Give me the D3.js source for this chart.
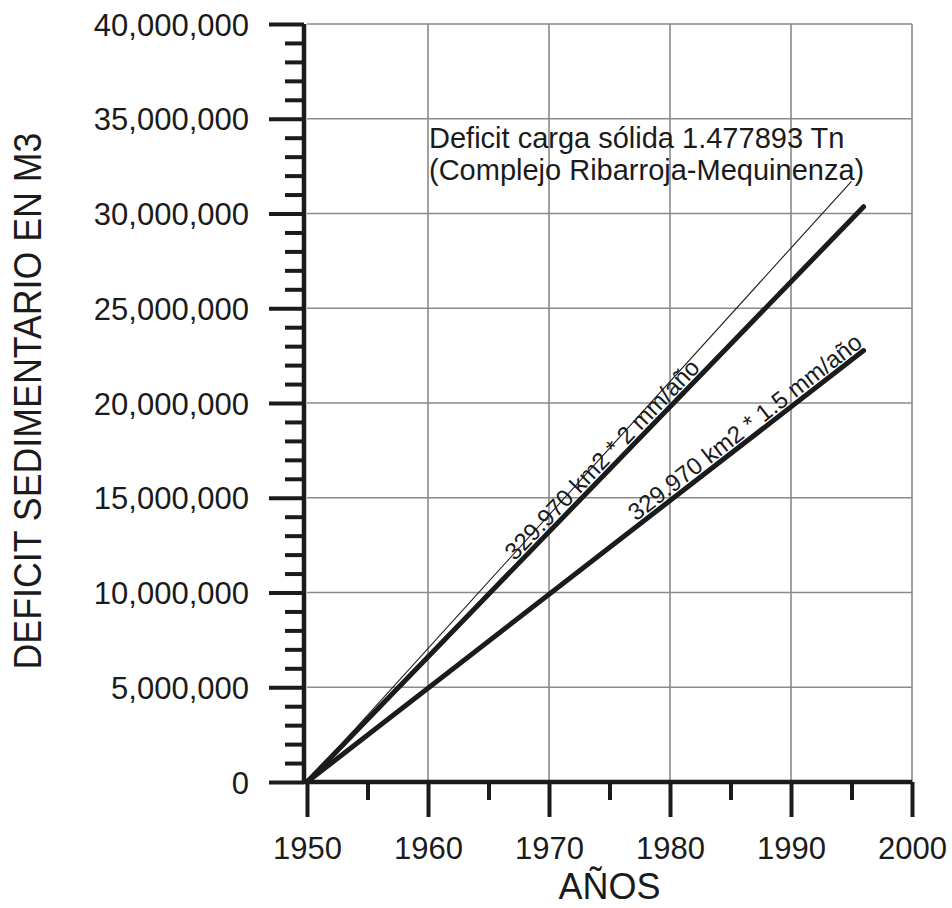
<!DOCTYPE html>
<html>
<head>
<meta charset="utf-8">
<script src="https://cdn.jsdelivr.net/npm/d3@7"></script>
<style>
  html, body { margin: 0; padding: 0; background: #fff; }
  svg { display: block; font-family: Arial, "Liberation Sans", sans-serif; }
</style>
</head>
<body>
<svg id="chart" width="952" height="908"></svg>
<script>
// ---- data ----
const xTickYears = [1950, 1960, 1970, 1980, 1990, 2000];
const xMinorYears = [1955, 1965, 1975, 1985, 1995];
const yTickValues = [0, 5000000, 10000000, 15000000, 20000000, 25000000, 30000000, 35000000, 40000000];
const seriesYears = [1950, 1996];
const values2mm = [0, 30357240];     // 329.970 km2 * 2 mm/año
const values15mm = [0, 22767930];    // 329.970 km2 * 1.5 mm/año
const deficitYears = [1950, 1995];
const deficitValues = [0, 31700000]; // Deficit carga sólida
const label2mm = "329.970 km2 * 2 mm/año";
const label15mm = "329.970 km2 * 1.5 mm/año";
const annotationLines = ["Deficit carga sólida 1.477893 Tn", "(Complejo Ribarroja-Mequinenza)"];
const xTitle = "AÑOS";
const yTitle = "DEFICIT SEDIMENTARIO EN M3";

// ---- layout ----
const svg = d3.select("#chart");
const x = d3.scaleLinear().domain([1950, 2000]).range([307, 912]);
const y = d3.scaleLinear().domain([0, 40000000]).range([782, 24]);
const ink = "#1b1b1b";

// grid
const grid = svg.append("g");
grid.selectAll("line.v").data(xTickYears.slice(1)).join("line")
  .attr("x1", d => x(d)).attr("x2", d => x(d))
  .attr("y1", y(0)).attr("y2", y(40000000))
  .attr("stroke", "#8a8a8a").attr("stroke-width", 1.6);
grid.selectAll("line.h").data(yTickValues.slice(1)).join("line")
  .attr("x1", x(1950)).attr("x2", x(2000))
  .attr("y1", d => y(d)).attr("y2", d => y(d))
  .attr("stroke", "#8a8a8a").attr("stroke-width", 1.6);

// series lines
const lineGen = d3.line().x(d => x(d[0])).y(d => y(d[1]));
function pairs(xs, vs) { return xs.map((v, i) => [v, vs[i]]); }
svg.append("path").datum(pairs(deficitYears, deficitValues))
  .attr("d", lineGen).attr("fill", "none").attr("stroke", ink).attr("stroke-width", 1.1);
svg.append("path").datum(pairs(seriesYears, values2mm))
  .attr("d", lineGen).attr("fill", "none").attr("stroke", ink).attr("stroke-width", 5).attr("stroke-linecap", "round");
svg.append("path").datum(pairs(seriesYears, values15mm))
  .attr("d", lineGen).attr("fill", "none").attr("stroke", ink).attr("stroke-width", 5).attr("stroke-linecap", "round");

// rotated labels along lines
function lineLabel(years, vals, startYear, text, offset) {
  const x0 = x(years[0]), y0 = y(vals[0]), x1 = x(years[1]), y1 = y(vals[1]);
  const ang = Math.atan2(y1 - y0, x1 - x0);
  const t = (startYear - years[0]) / (years[1] - years[0]);
  const px = x0 + (x1 - x0) * t + Math.sin(ang) * offset;
  const py = y0 + (y1 - y0) * t - Math.cos(ang) * offset;
  svg.append("text")
    .attr("transform", `translate(${px},${py}) rotate(${ang * 180 / Math.PI})`)
    .attr("font-size", 24).attr("fill", ink).text(text);
}
lineLabel(seriesYears, values2mm, 1967.4, label2mm, 4);
lineLabel(seriesYears, values15mm, 1977.4, label15mm, 4);

// annotation
const ann = svg.append("text").attr("font-size", 29).attr("fill", ink);
ann.selectAll("tspan").data(annotationLines).join("tspan")
  .attr("x", x(1960) + 1).attr("y", (d, i) => y(33450000) + i * 32).text(d => d);

// y axis
const yAxis = svg.append("g").attr("transform", `translate(${x(1950) - 3},0)`)
  .call(d3.axisLeft(y).tickValues(yTickValues).tickSize(35).tickPadding(20).tickFormat(d3.format(",")));
const yMinor = d3.range(0, 40000001, 1000000).filter(v => v % 5000000 !== 0);
const yMinorG = svg.append("g").attr("transform", `translate(${x(1950) - 3},0)`)
  .call(d3.axisLeft(y).tickValues(yMinor).tickSize(19).tickFormat(""));
// x axis
const xAxis = svg.append("g").attr("transform", `translate(0,${y(0)})`)
  .call(d3.axisBottom(x).tickValues(xTickYears).tickSize(35).tickPadding(20).tickFormat(d3.format("d")));
const xMinorG = svg.append("g").attr("transform", `translate(0,${y(0)})`)
  .call(d3.axisBottom(x).tickValues(xMinorYears).tickSize(18).tickFormat(""));

yMinorG.select(".domain").remove();
xMinorG.select(".domain").remove();
svg.selectAll(".domain").attr("stroke", ink).attr("stroke-width", 4.5);
svg.selectAll(".tick line").attr("stroke", ink).attr("stroke-width", 4);
svg.selectAll(".tick text").attr("font-size", 31).attr("fill", ink)
  .attr("font-family", "Arial, 'Liberation Sans', sans-serif");
yAxis.select(".domain").attr("d", `M0,${y(40000000)}V${y(0)}`);
xAxis.select(".domain").attr("d", `M${x(1950) - 3},0H${x(2000)}`);
yAxis.selectAll(".tick text").attr("dy", "0.36em");

// titles
svg.append("text").attr("x", (x(1950) + x(2000)) / 2).attr("y", 899)
  .attr("text-anchor", "middle").attr("font-size", 36).attr("fill", ink).text(xTitle);
svg.append("text").attr("transform", `translate(41,401) rotate(-90)`)
  .attr("text-anchor", "middle").attr("font-size", 38).attr("fill", ink)
  .attr("textLength", 537).attr("lengthAdjust", "spacingAndGlyphs").text(yTitle);
</script>
</body>
</html>
